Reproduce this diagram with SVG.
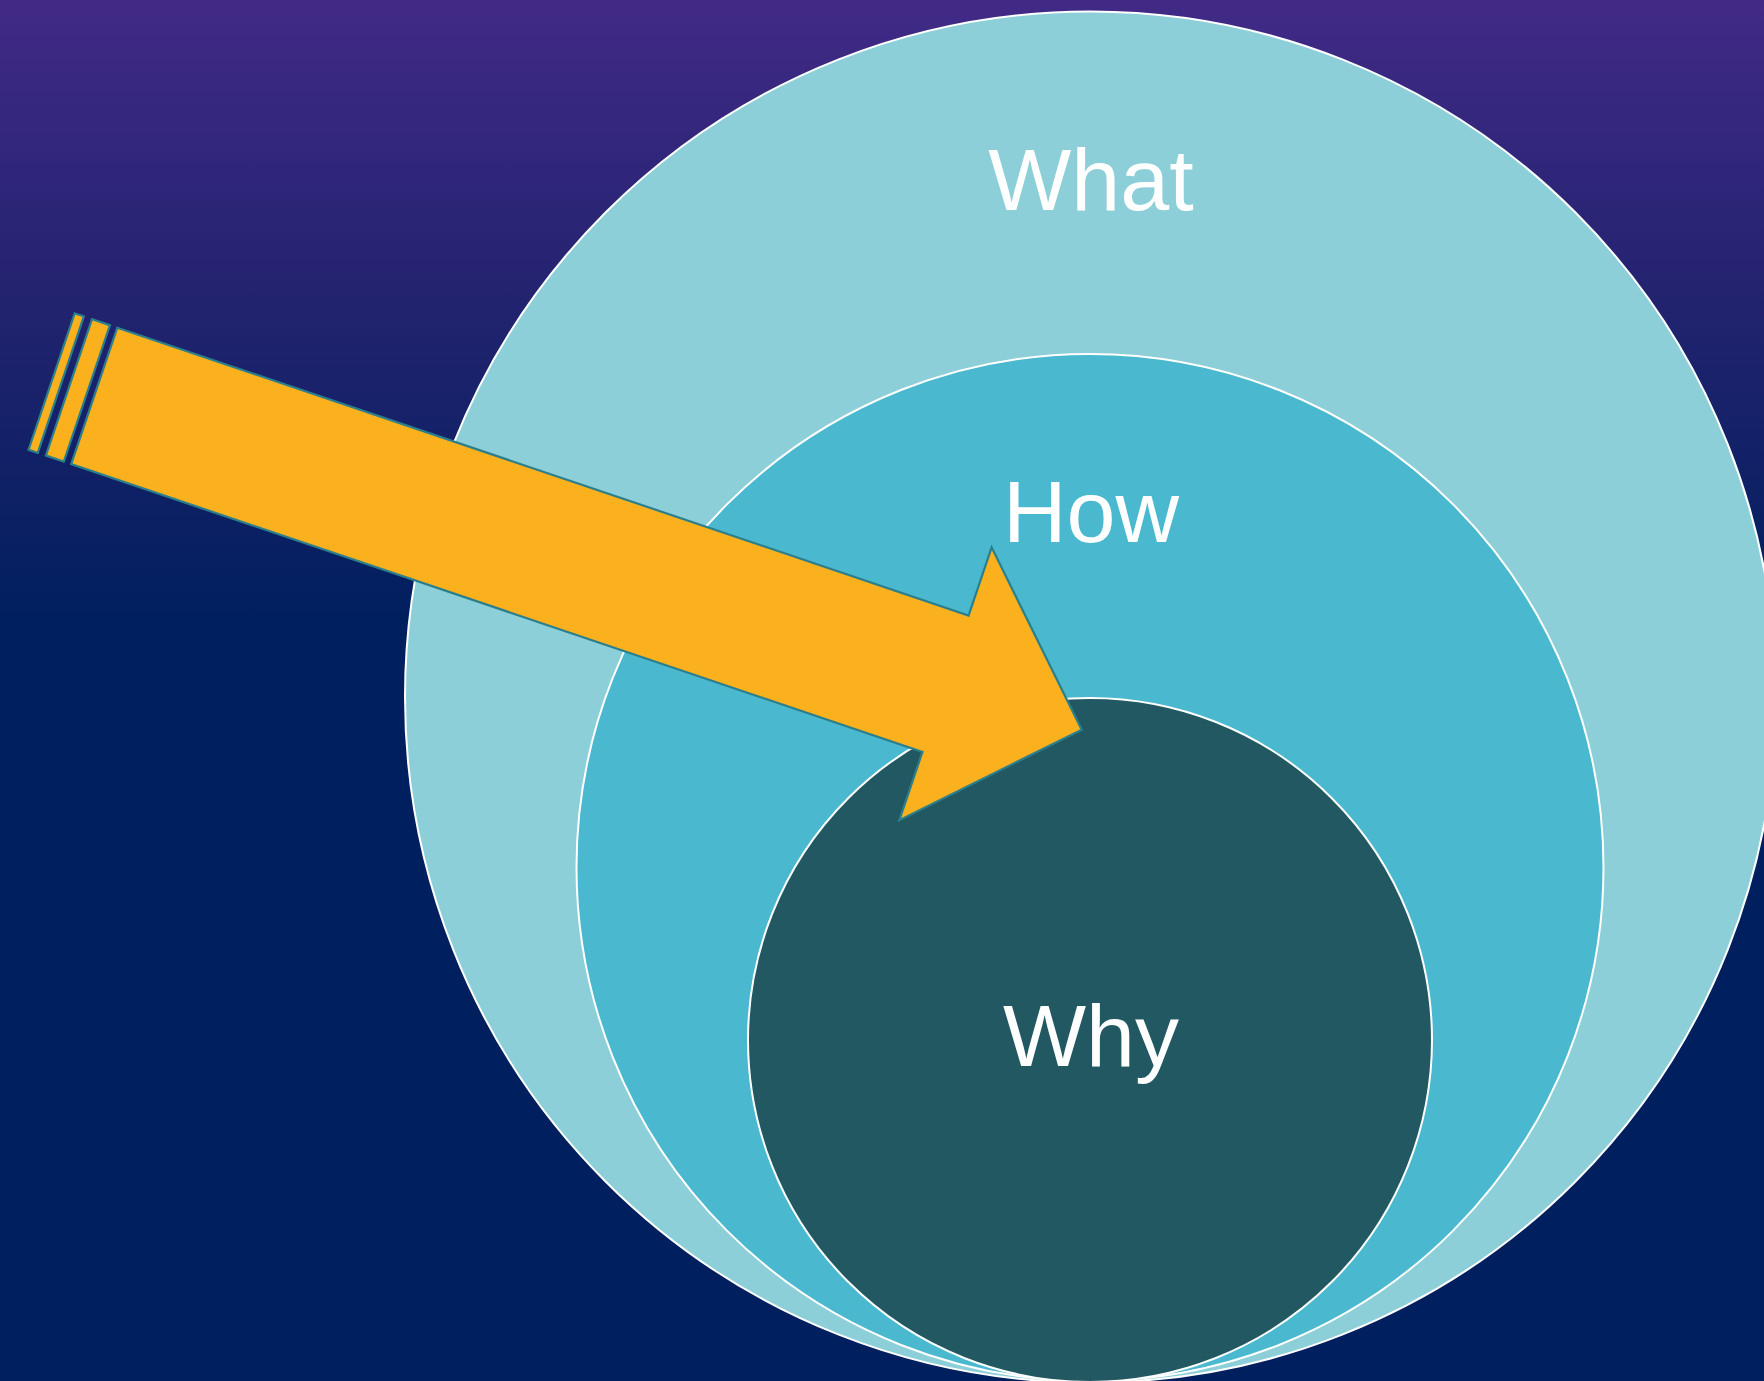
<svg xmlns="http://www.w3.org/2000/svg" width="1764" height="1381" viewBox="0 0 1764 1381">
  <defs>
    <linearGradient id="bg" x1="0" y1="0" x2="0" y2="1">
      <stop offset="0" stop-color="#412a86"/>
      <stop offset="0.22" stop-color="#22236f"/>
      <stop offset="0.45" stop-color="#001f5e"/>
      <stop offset="1" stop-color="#001f5e"/>
    </linearGradient>
    <style>
      .ring { stroke: #ffffff; stroke-width: 2; }
      .label { font-family: "Liberation Sans", Arial, sans-serif; font-size: 88px; fill: #ffffff; text-anchor: middle; }
      .arrow { fill: #fbb01e; stroke: #2b7f8c; stroke-width: 2.2; stroke-linejoin: miter; }
    </style>
  </defs>

  <rect x="0" y="0" width="1764" height="1381" fill="url(#bg)"/>

  <!-- Nested circles -->
  <g id="what">
    <circle class="ring" cx="1090.5" cy="697" r="685.5" fill="#8ccfd8"/>
    <text class="label" x="1091" y="210">What</text>
  </g>
  <g id="how">
    <circle class="ring" cx="1090" cy="867.5" r="513.5" fill="#4ab9cf"/>
    <text class="label" x="1091" y="542">How</text>
  </g>
  <g id="why">
    <circle class="ring" cx="1090" cy="1040" r="342" fill="#215862"/>
    <text class="label" x="1091" y="1066">Why</text>
  </g>

  <!-- Striped block arrow pointing into the centre -->
  <g id="connectors">
    <g transform="translate(117.3,327.7) rotate(18.68)">
      <rect class="arrow" x="-45" y="0" width="9.7" height="144"/>
      <rect class="arrow" x="-26.7" y="0" width="18.9" height="144"/>
      <polygon class="arrow" points="0,0 898.6,0 898.6,-72 1042.4,72 898.6,216 898.6,144 0,144"/>
    </g>
  </g>
</svg>
